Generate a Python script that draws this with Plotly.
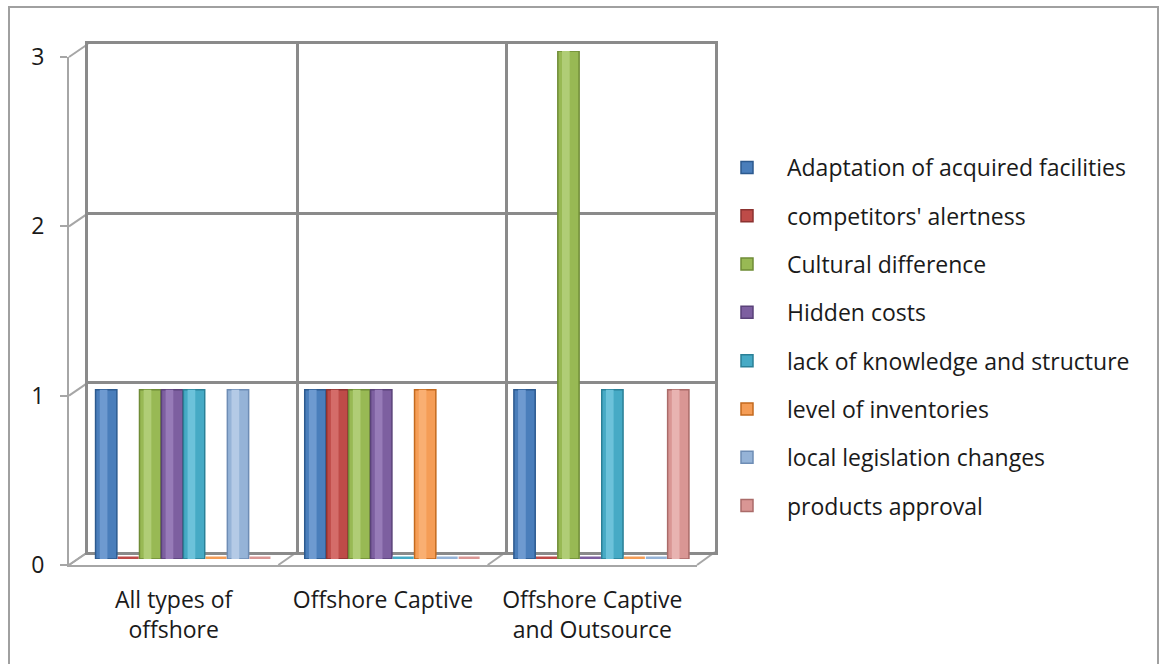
import plotly.graph_objects as go

# ---------------- data ----------------
categories = ["All types of offshore", "Offshore Captive", "Offshore Captive and Outsource"]
category_labels = ["All types of<br>offshore", "Offshore Captive", "Offshore Captive<br>and Outsource"]
series_names = [
    "Adaptation of acquired facilities",
    "competitors' alertness",
    "Cultural difference",
    "Hidden costs",
    "lack of knowledge and structure",
    "level of inventories",
    "local legislation changes",
    "products approval",
]
adaptation = [1, 1, 1]
competitors = [0, 1, 0]
cultural = [1, 1, 3]
hidden = [1, 1, 0]
lack_knowledge = [1, 0, 1]
inventories = [0, 1, 0]
legislation = [1, 0, 0]
approval = [0, 0, 1]
series_values = [adaptation, competitors, cultural, hidden, lack_knowledge,
                 inventories, legislation, approval]
y_ticks = [0, 1, 2, 3]

# ---------------- styles ----------------
base_colors = ["#4A7EBB", "#BE4B48", "#98B954", "#7D5FA0", "#46AAC5", "#F59D56", "#95B3D7", "#D99694"]
edge_colors = ["#2C5A8F", "#8C3230", "#6F8C36", "#5A4279", "#2A8097", "#C36A1E", "#6E8DB5", "#AA6B69"]
light_colors = ["#6E9AD0", "#D46C69", "#B0CD76", "#977BB8", "#6CC2DA", "#F9AF72", "#B4CAE6", "#E8B3B1"]

W, H = 1159, 664
FONT = "Open Sans"
FS = 23
TXT = "#1a1a1a"


def fx(x):
    return x / W


def fy(y):
    return 1 - y / H


# geometry (pixels) of the pseudo-3D box
FRONT_X = (69, 697)
FRONT_Y = (565, 57)   # value 0 / value 3
BACK_X = (88, 715)
BACK_Y = (552, 44)
MID_X = (78.5, 706)
MID_Y = (559, 51)
YMAX = 3

fig = go.Figure()

# placeholders so that the back-wall and front axes get drawn
fig.add_trace(go.Scatter(x=[None], y=[None], xaxis="x", yaxis="y", showlegend=False, hoverinfo="skip"))
fig.add_trace(go.Scatter(x=[None], y=[None], xaxis="x2", yaxis="y2", showlegend=False, hoverinfo="skip"))

n = len(series_names)
bw = 0.105
for j, (name, vals) in enumerate(zip(series_names, series_values)):
    xs = [i + (j - (n - 1) / 2) * bw for i in range(len(categories))]
    nz_x = [x for x, v in zip(xs, vals) if v != 0]
    nz_v = [v for v in vals if v != 0]
    z_x = [x for x, v in zip(xs, vals) if v == 0]
    z_v = [v for v in vals if v == 0]
    fig.add_trace(go.Bar(
        x=nz_x, y=nz_v, width=bw * 0.97, name=name, legendgroup=name,
        marker=dict(color=base_colors[j], line=dict(color=edge_colors[j], width=1.5)),
        xaxis="x3", yaxis="y3", showlegend=True,
    ))
    fig.add_trace(go.Bar(
        x=[x - bw * 0.12 for x in nz_x], y=nz_v, width=bw * 0.35, legendgroup=name,
        marker=dict(color=light_colors[j], line=dict(width=0)),
        xaxis="x3", yaxis="y3", showlegend=False, hoverinfo="skip",
    ))
    if z_x:
        fig.add_trace(go.Scatter(
            x=z_x, y=z_v, mode="markers", legendgroup=name, showlegend=False,
            marker=dict(symbol="line-ew-open", size=15, color=base_colors[j],
                        line=dict(color=base_colors[j], width=5)),
            xaxis="x3", yaxis="y3", hoverinfo="skip",
        ))

grid_col = "#8a8a8a"
front_col = "#a6a6a6"

fig.update_layout(
    # back wall (x / y)
    xaxis=dict(domain=[fx(BACK_X[0]), fx(BACK_X[1])], range=[-0.5, 2.5],
               tickvals=[0.5, 1.5], showticklabels=False, ticks="",
               showgrid=True, gridcolor=grid_col, gridwidth=2.5,
               showline=True, mirror=True, linecolor=grid_col, linewidth=2.5,
               zeroline=False, anchor="y", fixedrange=True, automargin=False),
    yaxis=dict(domain=[fy(BACK_Y[0]), fy(BACK_Y[1])], range=[0, YMAX],
               tickvals=y_ticks, showticklabels=False, ticks="",
               showgrid=True, gridcolor=grid_col, gridwidth=2.5,
               showline=True, mirror=True, linecolor=grid_col, linewidth=2.5,
               zeroline=False, anchor="x", fixedrange=True, automargin=False),
    # front axes (x2 / y2)
    xaxis2=dict(domain=[fx(FRONT_X[0]), fx(FRONT_X[1])], range=[-0.5, 2.5],
                tickvals=[0, 1, 2], ticktext=category_labels, ticks="",
                showgrid=False, zeroline=False, showline=True, linecolor=front_col, linewidth=2,
                tickfont=dict(family=FONT, size=FS, color=TXT), ticklabelstandoff=13,
                anchor="y2", fixedrange=True, automargin=False),
    yaxis2=dict(domain=[fy(FRONT_Y[0]), fy(FRONT_Y[1])], range=[0, YMAX],
                tickvals=y_ticks, ticks="outside", ticklen=7, tickcolor=front_col, tickwidth=2,
                showgrid=False, zeroline=False, showline=True, linecolor=front_col, linewidth=2,
                tickfont=dict(family=FONT, size=FS, color=TXT), ticklabelstandoff=11,
                anchor="x2", fixedrange=True, automargin=False),
    # bars (x3 / y3)
    xaxis3=dict(domain=[fx(MID_X[0]), fx(MID_X[1])], range=[-0.5, 2.5], visible=False,
                anchor="y3", fixedrange=True, automargin=False),
    yaxis3=dict(domain=[fy(MID_Y[0]), fy(MID_Y[1])], range=[0, YMAX], visible=False,
                anchor="x3", fixedrange=True, automargin=False),
)

# connecting depth lines
shapes = []
for v in y_ticks:
    yf = FRONT_Y[0] + (FRONT_Y[1] - FRONT_Y[0]) * v / YMAX
    yb = BACK_Y[0] + (BACK_Y[1] - BACK_Y[0]) * v / YMAX
    shapes.append(dict(type="line", xref="paper", yref="paper",
                       x0=fx(FRONT_X[0]), y0=fy(yf), x1=fx(BACK_X[0]), y1=fy(yb),
                       line=dict(color=front_col, width=2), layer="below"))
for k in range(len(categories) + 1):
    xf = FRONT_X[0] + (FRONT_X[1] - FRONT_X[0]) * k / len(categories)
    xb = BACK_X[0] + (BACK_X[1] - BACK_X[0]) * k / len(categories)
    shapes.append(dict(type="line", xref="paper", yref="paper",
                       x0=fx(xf), y0=fy(FRONT_Y[0]), x1=fx(xb), y1=fy(BACK_Y[0]),
                       line=dict(color=front_col, width=2), layer="below"))
# outer chart border
shapes.append(dict(type="rect", xref="paper", yref="paper",
                   x0=fx(9), y0=fy(680), x1=fx(1158), y1=fy(7),
                   line=dict(color="#a0a0a0", width=2), fillcolor="rgba(0,0,0,0)", layer="below"))

fig.update_layout(
    width=W, height=H,
    margin=dict(l=0, r=0, t=0, b=0, autoexpand=False),
    paper_bgcolor="white",
    plot_bgcolor="rgba(0,0,0,0)",
    barmode="overlay",
    shapes=shapes,
    showlegend=True,
    legend=dict(x=fx(707), xanchor="left", y=fy(337), yanchor="middle",
                font=dict(family=FONT, size=FS, color=TXT),
                itemwidth=70, tracegroupgap=15.4, bgcolor="rgba(0,0,0,0)",
                itemclick=False, itemdoubleclick=False),
    font=dict(family=FONT, color=TXT),
)

fig.write_html("out.html")
